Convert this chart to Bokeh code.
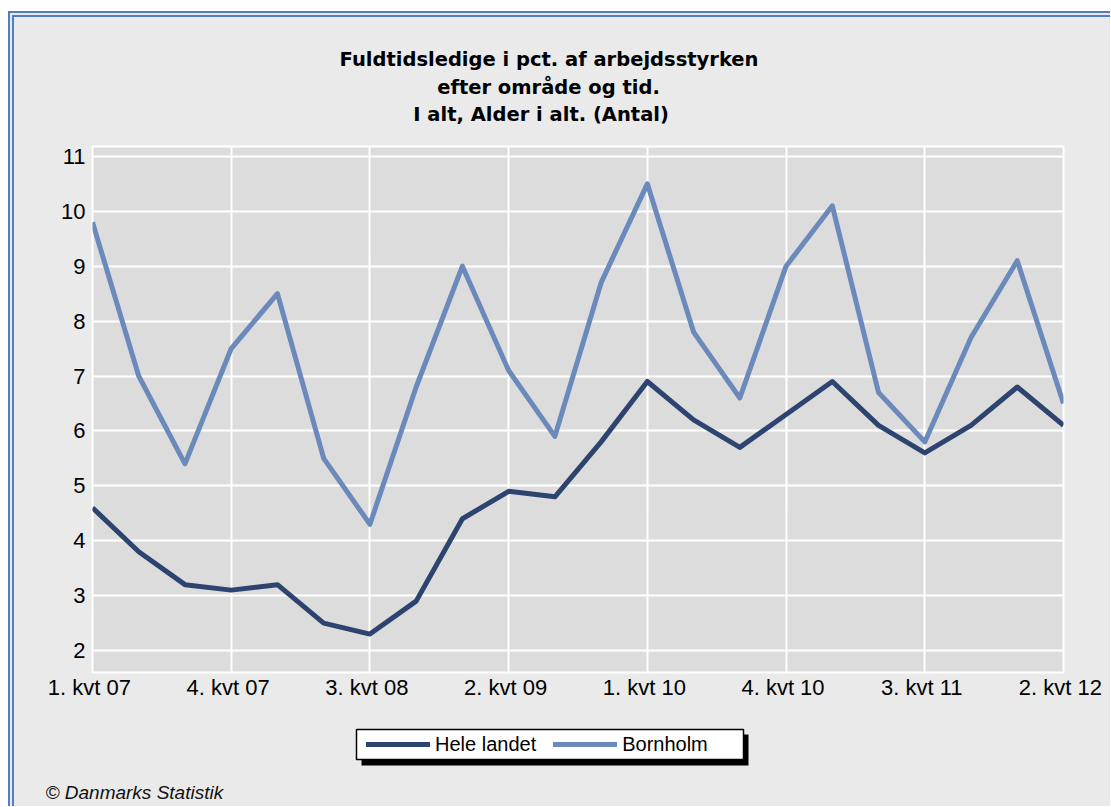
from bokeh.plotting import figure
from bokeh.layouts import column
from bokeh.models import (Range1d, FixedTicker, Title, Legend, LegendItem,
                          BoxAnnotation, Label)
from bokeh.embed import file_html
from bokeh.resources import INLINE

# ---- data ----
quarters = ["1. kvt  07", "2. kvt  07", "3. kvt  07", "4. kvt  07",
            "1. kvt  08", "2. kvt  08", "3. kvt  08", "4. kvt  08",
            "1. kvt  09", "2. kvt  09", "3. kvt  09", "4. kvt  09",
            "1. kvt  10", "2. kvt  10", "3. kvt  10", "4. kvt  10",
            "1. kvt  11", "2. kvt  11", "3. kvt  11", "4. kvt  11",
            "1. kvt  12", "2. kvt  12"]
hele_landet = [4.6, 3.8, 3.2, 3.1, 3.2, 2.5, 2.3, 2.9, 4.4, 4.9, 4.8,
               5.8, 6.9, 6.2, 5.7, 6.3, 6.9, 6.1, 5.6, 6.1, 6.8, 6.1]
bornholm = [9.8, 7.0, 5.4, 7.5, 8.5, 5.5, 4.3, 6.8, 9.0, 7.1, 5.9,
            8.7, 10.5, 7.8, 6.6, 9.0, 10.1, 6.7, 5.8, 7.7, 9.1, 6.5]
y_ticks = [2, 3, 4, 5, 6, 7, 8, 9, 10, 11]
x_tick_step = 3
title_lines = ["Fuldtidsledige i pct. af arbejdsstyrken",
               "efter område og tid.",
               "I alt, Alder  i alt. (Antal)"]
series_names = ["Hele landet", "Bornholm"]
footer = "© Danmarks Statistik"

x = list(range(len(quarters)))
x_ticks = x[::x_tick_step]

DARK = "#2E4470"
LIGHT = "#6B89BA"
OUTER = "#EAEAEA"
W = 1096
BL, BR = 78, 47   # left/right borders around the plot frame


def strip(height):
    f = figure(width=W, height=height, x_range=Range1d(0, 1), y_range=Range1d(0, 1),
               x_axis_type=None, y_axis_type=None, title=None,
               output_backend="svg", toolbar_location=None,
               min_border_left=BL, min_border_right=BR,
               min_border_top=0, min_border_bottom=0)
    f.background_fill_color = OUTER
    f.border_fill_color = OUTER
    f.outline_line_color = None
    f.xgrid.visible = False
    f.ygrid.visible = False
    return f

# ================= title strip =================
p0 = strip(125)
title_x = [456.5, 456, 452]
title_y = [83.3, 55, 28.3]
for txt, tx, ty in zip(title_lines, title_x, title_y):
    p0.add_layout(Label(x=tx, y=ty, x_units="screen", y_units="screen",
                        text=txt, text_align="center", text_baseline="alphabetic",
                        text_font="DejaVu Sans", text_font_style="bold",
                        text_font_size="19.5px", text_color="#000000"))

# ================= main chart =================
p = figure(width=W, height=564, title=None,
           x_range=Range1d(0, len(quarters) - 1), y_range=Range1d(1.6, 11.18),
           output_backend="svg", toolbar_location=None,
           min_border_left=BL, min_border_right=BR,
           min_border_top=4, min_border_bottom=34)
p.background_fill_color = "#DCDCDC"
p.border_fill_color = OUTER
p.outline_line_color = "white"
p.outline_line_width = 2

p.line(x, hele_landet, line_color=DARK, line_width=5, line_join="round")
p.line(x, bornholm, line_color=LIGHT, line_width=5, line_join="round")

p.xaxis.ticker = FixedTicker(ticks=x_ticks)
p.xaxis.major_label_overrides = {i: quarters[i] for i in x_ticks}
p.yaxis.ticker = FixedTicker(ticks=y_ticks)
for ax in (p.xaxis[0], p.yaxis[0]):
    ax.axis_line_color = None
    ax.major_tick_line_color = None
    ax.minor_tick_line_color = None
    ax.major_tick_out = 0
    ax.major_label_text_font = "Liberation Sans"
    ax.major_label_text_font_size = "22px"
    ax.major_label_text_color = "#000000"
p.xaxis.major_label_standoff = 2
p.yaxis.major_label_standoff = 7

p.xgrid.ticker = FixedTicker(ticks=x_ticks)
p.ygrid.ticker = FixedTicker(ticks=y_ticks)
for g in (p.xgrid[0], p.ygrid[0]):
    g.grid_line_color = "white"
    g.grid_line_width = 2

# ================= legend + footer strip =================
p2 = strip(96)

# legend proxies: same series, lying outside this strip's ranges
k1 = p2.line(x, hele_landet, line_color=DARK, line_width=5, line_cap="round")
k2 = p2.line(x, bornholm, line_color=LIGHT, line_width=5, line_cap="round")

p2.add_layout(BoxAnnotation(left=269, right=656, top=45, bottom=14,
                            left_units="screen", right_units="screen",
                            top_units="screen", bottom_units="screen",
                            fill_color="black", fill_alpha=1.0, line_color=None))
p2.add_layout(BoxAnnotation(left=264, right=651, top=50, bottom=20,
                            left_units="screen", right_units="screen",
                            top_units="screen", bottom_units="screen",
                            fill_color="white", fill_alpha=1.0,
                            line_color="black", line_width=1.5, line_alpha=1.0))

legend = Legend(items=[LegendItem(label=series_names[0], renderers=[k1]),
                       LegendItem(label=series_names[1], renderers=[k2])],
                location=(274, 23.5), orientation="horizontal",
                background_fill_alpha=0.0, border_line_color=None,
                label_text_font="Liberation Sans", label_text_font_size="20px",
                label_text_color="#000000",
                glyph_width=64, glyph_height=20, label_standoff=5,
                spacing=17, padding=0, margin=0)
p2.add_layout(legend, "center")

p2.add_layout(Title(text=footer, align="left", offset=-47, standoff=0,
                    text_font="Liberation Sans", text_font_style="italic",
                    text_font_size="19px", text_color="#111111"), "below")

layout = column(p0, p, p2, spacing=0)
layout.styles = {"border-left": "6px double #4F7FC0",
                 "border-top": "6px double #4F7FC0",
                 "margin-top": "11px", "margin-left": "8px",
                 "padding-bottom": "4px", "background-color": OUTER}

open("out.html", "w").write(file_html(layout, INLINE))
